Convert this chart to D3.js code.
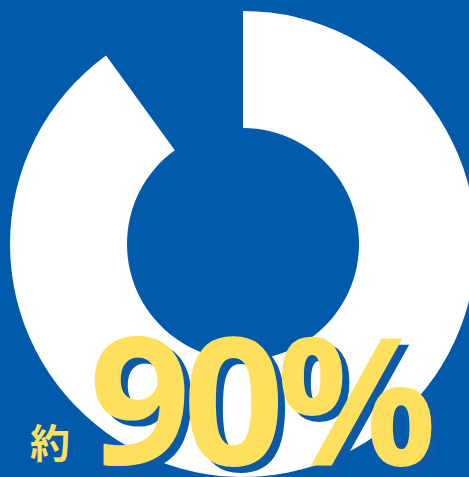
<!DOCTYPE html>
<html>
<head>
<meta charset="utf-8">
<script src="https://cdn.jsdelivr.net/npm/d3@7"></script>
<style>
  html, body { margin: 0; padding: 0; background: #025aab; overflow: hidden; }
</style>
</head>
<body>
<div id="chart"></div>
<script>
// share shown by the ring
var labels = ["該当", "その他"]
var values = [90, 10]
var prefix = "約"
var valueText = "90%"

var width = 469, height = 477
var cx = 243, cy = 244
var outerR = 233, innerR = 116

var svg = d3.select("#chart")
    .append("svg")
    .attr("width", width)
    .attr("height", height)

svg.append("rect")
    .attr("width", width)
    .attr("height", height)
    .attr("fill", "#025aab")

var pie = d3.pie()
    .sort(null)
    .value(function(d){ return d })

var arc = d3.arc()
    .innerRadius(innerR)
    .outerRadius(outerR)

var g = svg.append("g")
    .attr("transform", "translate(" + cx + "," + cy + ")")

g.selectAll("path")
    .data(pie(values))
    .enter()
    .append("path")
    .attr("d", arc)
    .attr("fill", function(d, i){ return i == 0 ? "#ffffff" : "none" })

// label: 約 + big number with blue offset shadow
var fontBig = "'Open Sans', 'Noto Sans', sans-serif"

svg.append("text")
    .attr("x", 30)
    .attr("y", 458)
    .attr("font-family", "'Noto Sans CJK JP', sans-serif")
    .attr("font-weight", 700)
    .attr("font-size", 40)
    .attr("fill", "#ffdf5e")
    .text(prefix)

svg.append("text")
    .attr("x", 96)
    .attr("y", 471)
    .attr("font-family", fontBig)
    .attr("font-weight", 700)
    .attr("font-size", 178)
    .attr("letter-spacing", -8)
    .attr("fill", "#0a5aa8")
    .text(valueText)

svg.append("text")
    .attr("x", 89)
    .attr("y", 465)
    .attr("font-family", fontBig)
    .attr("font-weight", 700)
    .attr("font-size", 178)
    .attr("letter-spacing", -8)
    .attr("fill", "#ffdf5e")
    .text(valueText)
</script>
</body>
</html>
